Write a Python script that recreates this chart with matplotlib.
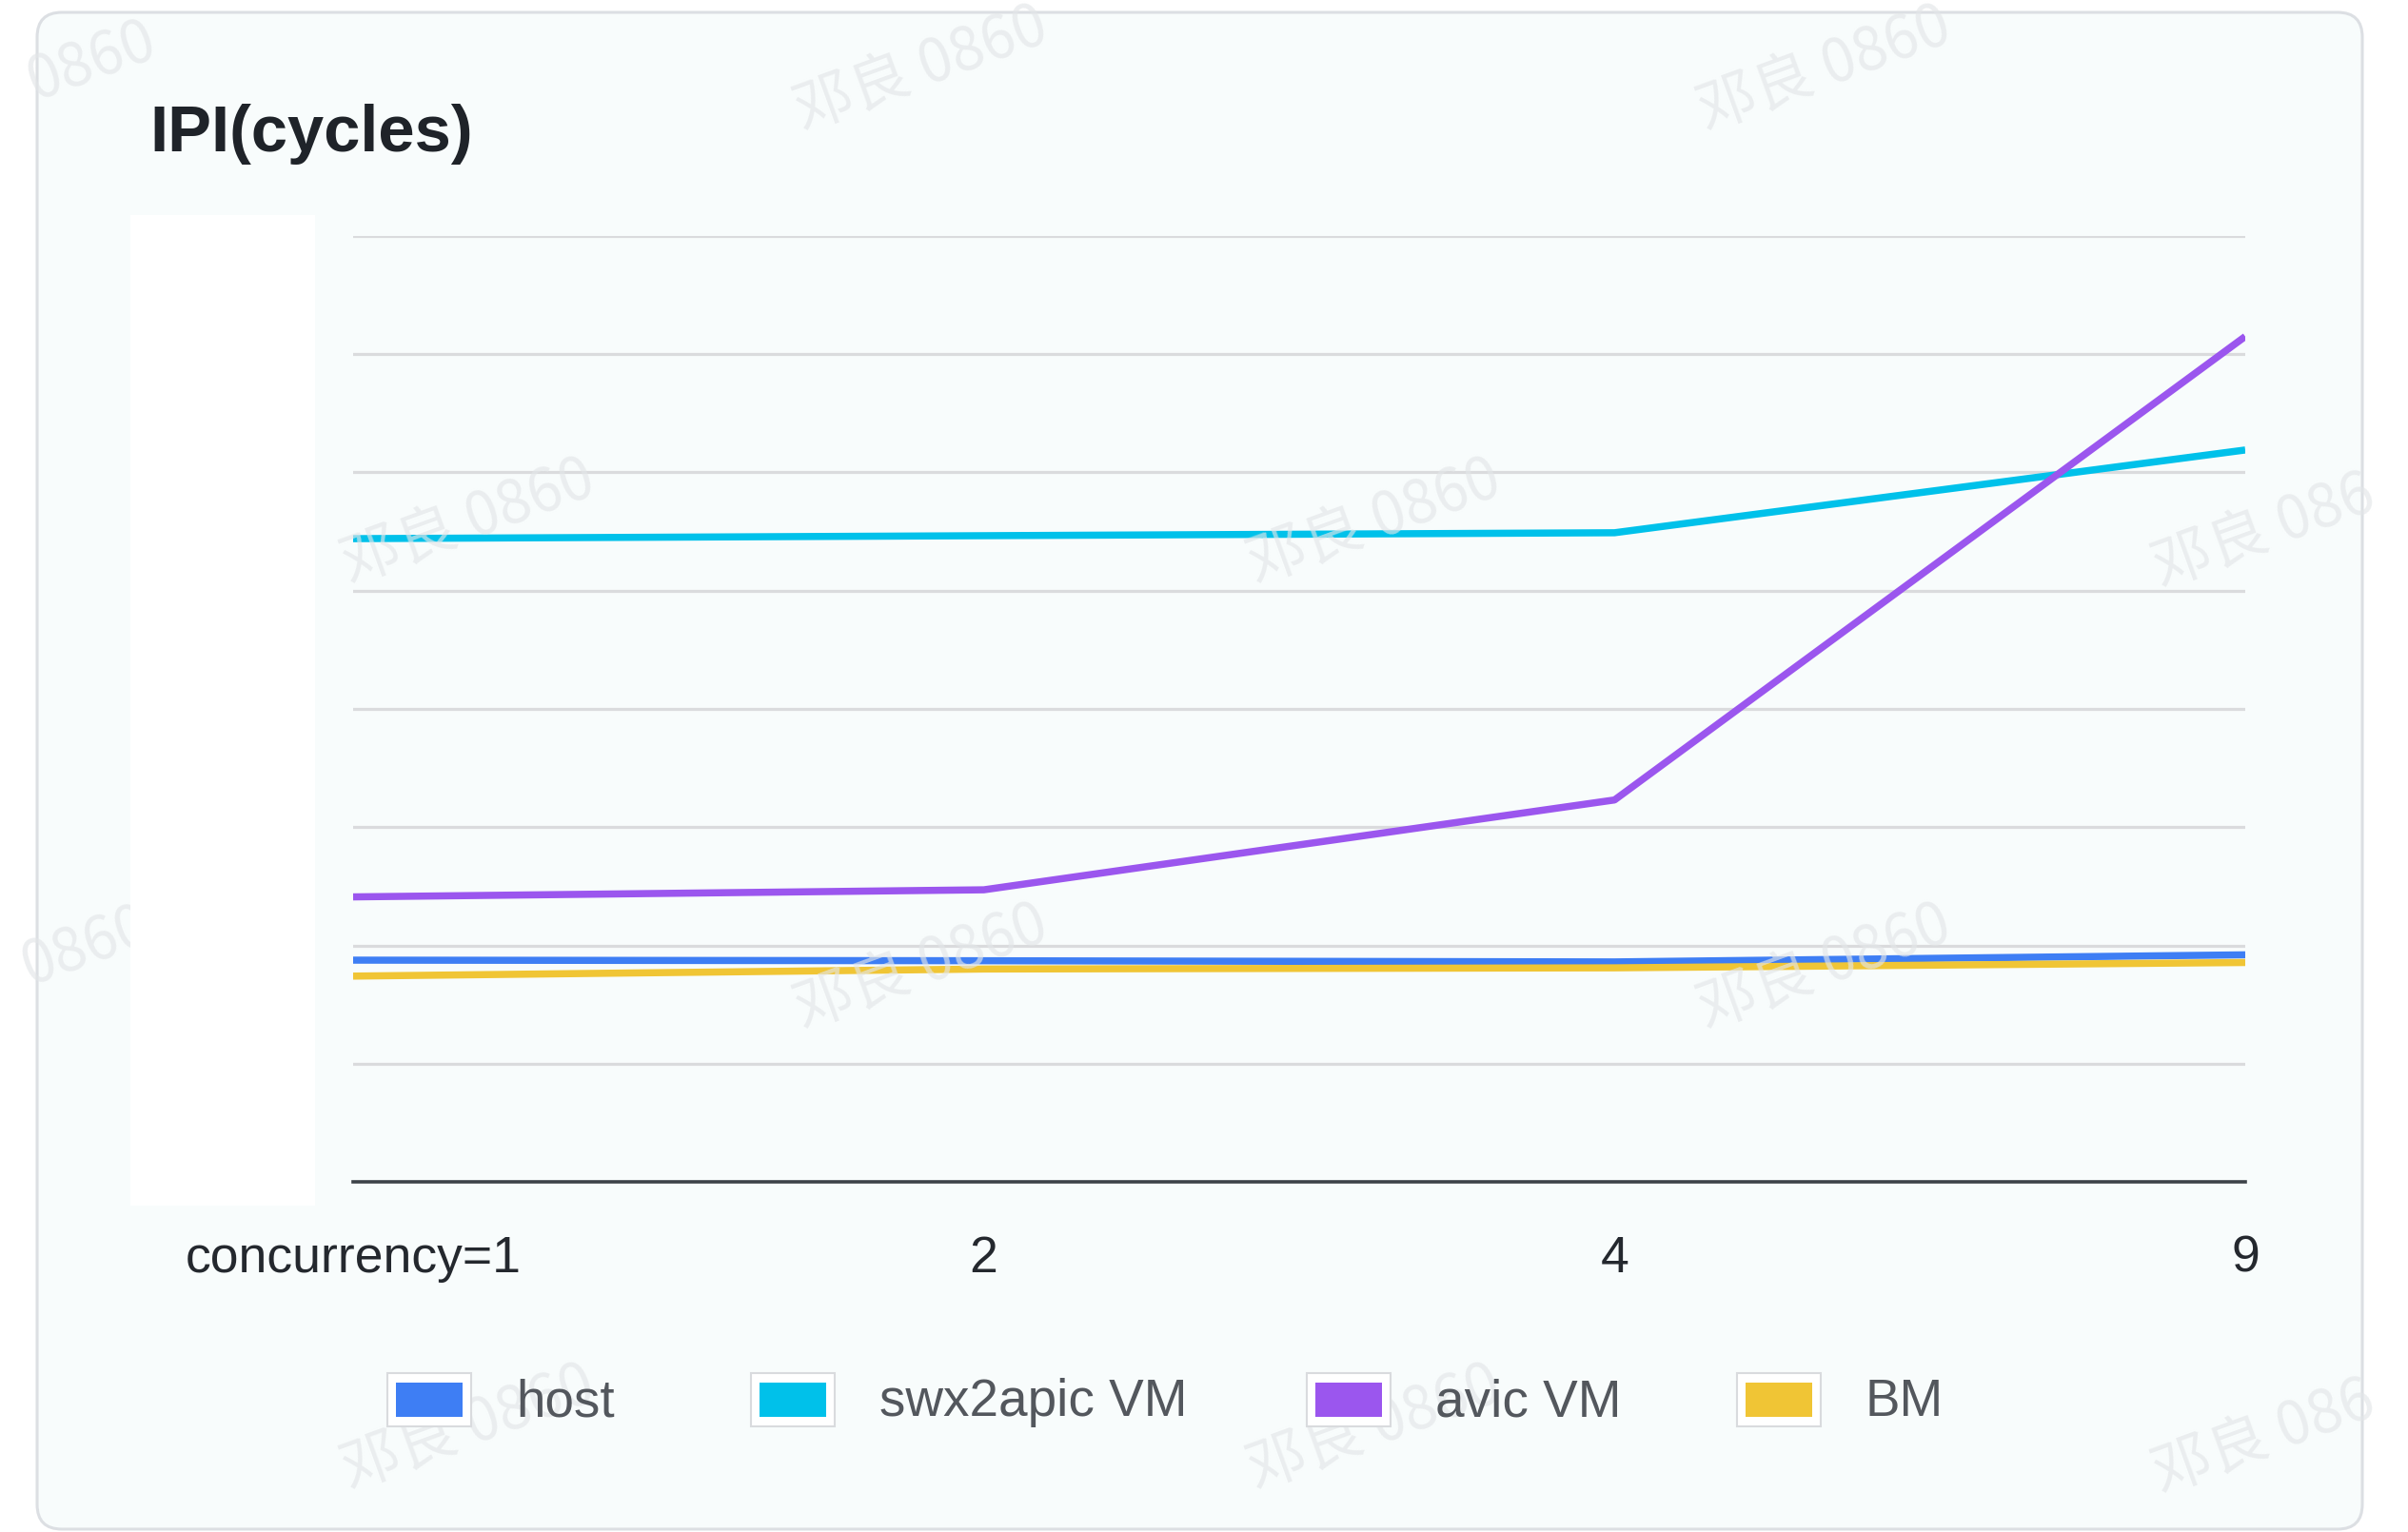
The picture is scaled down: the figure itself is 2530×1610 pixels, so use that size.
import matplotlib
matplotlib.use("Agg")
import matplotlib.pyplot as plt
from matplotlib.patches import FancyBboxPatch, Rectangle
from matplotlib.transforms import IdentityTransform

categories = ['concurrency=1', '2', '4', '9']
host = [1875, 1870, 1860, 1920]
swx2apic_vm = [5440, 5465, 5490, 6190]
avic_vm = [2410, 2470, 3230, 7150]
bm = [1740, 1800, 1810, 1855]

series_names = ['host', 'swx2apic VM', 'avic VM', 'BM']
series_values = [host, swx2apic_vm, avic_vm, bm]
colors = ['#3e7ef4', '#00c1ea', '#9b56ee', '#f0c535']

W, H = 2530, 1610
plt.rcParams['font.family'] = ['Liberation Sans', 'Noto Sans CJK SC', 'DejaVu Sans']

fig = plt.figure(figsize=(W / 100, H / 100), dpi=100)
fig.patch.set_facecolor('white')
pix = IdentityTransform()


def fx(x):
    return x / W


def fy(y):
    return 1 - y / H


# card background
card = FancyBboxPatch((39, H - 1607), 2443, 1594,
                      boxstyle="round,pad=0,rounding_size=26",
                      facecolor='#f8fcfc', edgecolor='#dcdfe3', linewidth=2.2,
                      transform=pix, zorder=-10)
fig.patches.append(card)

# watermark (positions in the shrunk 1568-wide view); edge ones only show what is visible
wm = [(600, 45, '邓良 0860'), (1188, 45, '邓良 0860'),
      (305, 340, '邓良 0860'), (895, 340, '邓良 0860'), (1474, 346, '邓良 086'),
      (600, 630, '邓良 0860'), (1188, 630, '邓良 0860'),
      (305, 930, '邓良 0860'), (895, 930, '邓良 0860'), (1474, 936, '邓良 086'),
      (60, 40, '0860'), (56, 616, '0860')]
for x, y, t in wm:
    fig.text(fx(x * 1.6136), fy(y * 1.6136), t, fontsize=45,
             color='#e3e6e8', alpha=0.65, rotation=20, ha='center', va='center',
             family=['Noto Sans CJK SC', 'DejaVu Sans'], zorder=0.5)

# white block over the y tick labels
fig.patches.append(Rectangle((137, H - 1267), 194, 1041, facecolor='white',
                             edgecolor='none', transform=pix, zorder=1))

ax = fig.add_axes([fx(371), fy(1242), (2359 - 371) / W, (1242 - 248) / H])
ax.set_facecolor('none')
x = list(range(len(categories)))
for name, vals, c in zip(series_names, series_values, colors):
    ax.plot(x, vals, color=c, lw=5.4, solid_capstyle='butt', label=name, zorder=3)

ax.set_xlim(0, 3)
ax.set_ylim(0, 8000)
ax.set_yticks(range(1000, 8001, 1000))
ax.set_yticklabels([])
ax.grid(axis='y', color='#dadbdd', lw=2.3)
ax.tick_params(axis='y', length=0)
ax.set_xticks(x)
ax.set_xticklabels(categories, fontsize=38.5, color='#24282e')
ax.tick_params(axis='x', length=0, pad=40)
for s in ['top', 'right', 'left']:
    ax.spines[s].set_visible(False)
ax.spines['bottom'].set_color('#3d4248')
ax.spines['bottom'].set_linewidth(2.6)

# title
fig.text(fx(157), fy(141), 'IPI(cycles)', fontsize=49.5, fontweight='bold',
         color='#1f2329', ha='left', va='center')

# legend
box_left = [407, 789, 1373, 1825]
cy = 1471
for bx, name, c in zip(box_left, series_names, colors):
    fig.patches.append(Rectangle((bx, H - cy - 28), 88, 56, facecolor='white',
                                 edgecolor='#d9dbde', lw=1.5, transform=pix, zorder=2))
    fig.patches.append(Rectangle((bx + 9, H - cy - 18), 70, 36, facecolor=c,
                                 edgecolor='none', transform=pix, zorder=2.5))
    fig.text(fx(bx + 135), fy(cy + 3), name, fontsize=39.5, color='#53575d',
             ha='left', va='center')

fig.savefig('out.png', dpi=100)
